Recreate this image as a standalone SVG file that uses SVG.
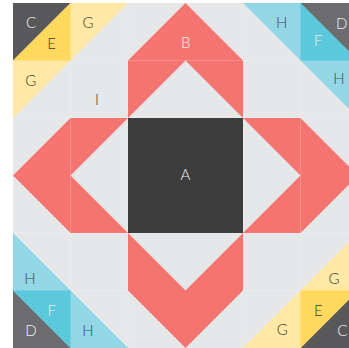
<svg xmlns="http://www.w3.org/2000/svg" width="349" height="348" viewBox="0 0 349 348">
<style>
.bg{fill:#e6e7e9}
.red{fill:#f47570}
.dk{fill:#3d3d3d}
.c{fill:#58585b}
.d{fill:#6b6b70}
.e{fill:#ffd95e}
.g{fill:#ffe9a4}
.f{fill:#5bc8dc}
.h{fill:#93d6e6}
.seam{stroke:#ffffff;stroke-opacity:0.2;stroke-width:1;fill:none}
text{font-family:Lato,"Open Sans","Liberation Sans",sans-serif;font-size:15px;text-anchor:middle;font-weight:300}
.tl{fill:#f0f0f0}
.td{fill:#3a3a3a}
.th{fill:#3b4f55}
</style>
<rect width="349" height="348" fill="#ffffff"/>
<rect class="bg" x="13" y="3" width="345" height="345"/>
<g id="seams">
<path class="seam" d="M70.5 3V348M128 3V348M243 3V348M300.5 3V348M13 60.5H358M13 118H358M13 233H358M13 290.5H358"/>
</g>
<g id="corner-top-left">
<polygon class="g" points="13,3 128,3 13,118"/>
<polygon class="c" points="13,3 70.5,3 13,60.5"/>
<polygon class="e" points="70.5,3 70.5,60.5 13,60.5"/>
<text class="tl" x="31" y="28">C</text>
<text class="td" x="51.5" y="48.5">E</text>
<text class="td" x="88" y="28">G</text>
<text class="td" x="30.7" y="85.5">G</text>
</g>
<g id="corner-top-right">
<polygon class="h" points="243,3 358,3 358,118"/>
<polygon class="d" points="300.5,3 358,3 358,60.5"/>
<polygon class="f" points="300.5,3 358,60.5 300.5,60.5"/>
<text class="th" x="281.7" y="28">H</text>
<text class="tl" x="341.7" y="28.5">D</text>
<text class="tl" x="318.3" y="45.5">F</text>
<text class="th" x="339" y="83.5">H</text>
</g>
<g id="corner-bottom-left">
<polygon class="h" points="13,233 13,348 128,348"/>
<polygon class="d" points="13,290.5 70.5,348 13,348"/>
<polygon class="f" points="13,290.5 70.5,290.5 70.5,348"/>
<text class="th" x="30" y="283.5">H</text>
<text class="tl" x="51.7" y="315.5">F</text>
<text class="tl" x="31" y="336">D</text>
<text class="th" x="88" y="336">H</text>
</g>
<g id="corner-bottom-right">
<polygon class="g" points="358,233 358,348 243,348"/>
<polygon class="c" points="358,290.5 358,348 300.5,348"/>
<polygon class="e" points="300.5,290.5 358,290.5 300.5,348"/>
<text class="td" x="334" y="283.5">G</text>
<text class="td" x="318.3" y="315.5">E</text>
<text class="td" x="282.3" y="335">G</text>
<text class="tl" x="342.3" y="336">C</text>
</g>
<g id="node-I">
<text class="td" x="97" y="104.5">I</text>
</g>
<g id="node-B">
<polygon class="red" points="185.5,3 243,60.5 243,118 185.5,60.5 128,118 128,60.5"/>
<path class="seam" d="M128 60.5H243"/>
<text class="tl" x="185.7" y="48">B</text>
</g>
<g id="chevron-left">
<polygon class="red" points="13,175.5 70.5,118 128,118 70.5,175.5 128,233 70.5,233"/>
<path class="seam" d="M70.5 118V233"/>
</g>
<g id="chevron-right">
<polygon class="red" points="358,175.5 300.5,118 243,118 300.5,175.5 243,233 300.5,233"/>
<path class="seam" d="M300.5 118V233"/>
</g>
<g id="chevron-bottom">
<polygon class="red" points="185.5,348 128,290.5 128,233 185.5,290.5 243,233 243,290.5"/>
</g>
<g id="node-A">
<rect class="dk" x="128" y="118" width="115" height="115"/>
<text class="tl" x="185.5" y="179.5">A</text>
</g>
<g id="connectors"/>
</svg>
